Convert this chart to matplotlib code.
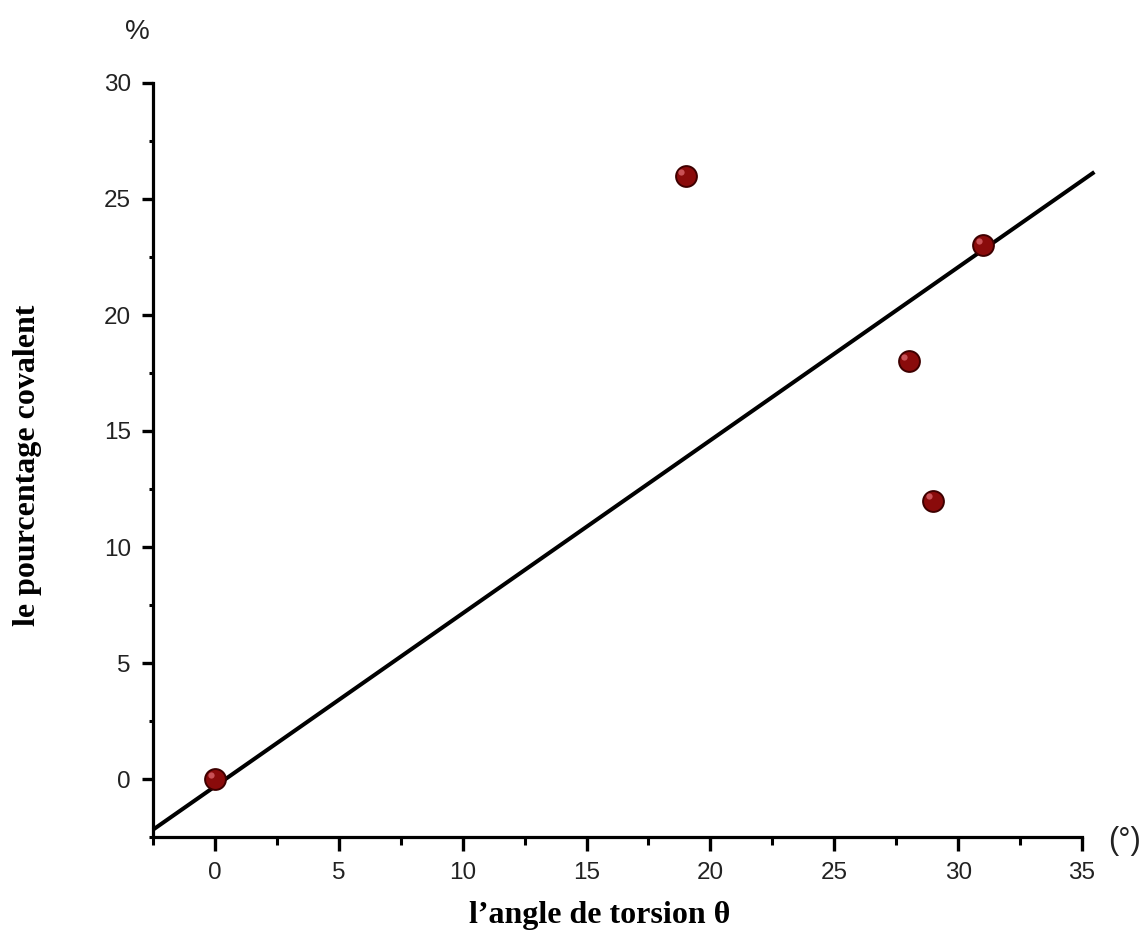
import matplotlib
matplotlib.use("Agg")
import matplotlib.pyplot as plt
import matplotlib.transforms as mtransforms
import numpy as np
from matplotlib.ticker import MultipleLocator

# Data
torsion_angle = [0, 19, 28, 29, 31]
covalent_pct = [0, 26, 18, 12, 23]
fit_slope = 0.746
fit_intercept = -0.32
fit_x_range = [-2.5, 35.5]

W, H = 1146, 940
fig = plt.figure(figsize=(W / 100, H / 100), dpi=100)
left, right, top, bottom = 153, 1082, 83, 837
ax = fig.add_axes([left / W, 1 - bottom / H, (right - left) / W, (bottom - top) / H])

fx = np.array(fit_x_range)
ax.plot(fx, fit_slope * fx + fit_intercept, color="black", lw=2.9,
        clip_on=False, zorder=2, solid_capstyle="butt")
ax.plot(torsion_angle, covalent_pct, ls="none", marker="o", ms=15,
        mfc="#8a0b0b", mec="#3e0000", mew=1.4, zorder=3, clip_on=False)
# small highlight on the markers
hl = mtransforms.offset_copy(ax.transData, fig=fig, x=-3, y=3, units="points")
ax.plot(torsion_angle, covalent_pct, ls="none", marker="o", ms=4.5,
        mfc="#d9646a", mec="none", alpha=0.8, zorder=4, transform=hl, clip_on=False)

ax.set_xlim(-2.5, 35)
ax.set_ylim(-2.5, 30)
ax.xaxis.set_major_locator(MultipleLocator(5))
ax.xaxis.set_minor_locator(MultipleLocator(2.5))
ax.yaxis.set_major_locator(MultipleLocator(5))
ax.yaxis.set_minor_locator(MultipleLocator(2.5))

for s in ["top", "right"]:
    ax.spines[s].set_visible(False)
for s in ["left", "bottom"]:
    ax.spines[s].set_linewidth(2.3)

ax.tick_params(axis="x", which="major", direction="out", length=10, width=2.4,
               labelsize=17.5, pad=8)
ax.tick_params(axis="x", which="minor", direction="out", length=6, width=2.2)
ax.tick_params(axis="y", which="major", direction="out", length=8, width=2.4,
               labelsize=17.5, pad=8)
ax.tick_params(axis="y", which="minor", direction="out", length=3, width=2.2)
for lab in ax.get_xticklabels() + ax.get_yticklabels():
    lab.set_fontfamily("Liberation Sans")
    lab.set_color("#222222")

ax.set_xlabel("l\u2019angle de torsion \u03b8", fontfamily="Liberation Serif",
              fontweight="bold", fontsize=23, va="center")
ax.xaxis.set_label_coords((600 - left) / (right - left), (bottom - 915) / (bottom - top))
ax.set_ylabel("le pourcentage covalent", fontfamily="Liberation Serif",
              fontweight="bold", fontsize=23, va="center")
ax.yaxis.set_label_coords((28 - left) / (right - left), (bottom - 465) / (bottom - top))

fig.text(137 / W, 1 - 32 / H, "%", fontfamily="Liberation Sans",
         fontsize=20, ha="center", va="center", color="#222222")
fig.text(1124 / W, 1 - 841 / H, "(\u00b0)", fontfamily="Liberation Sans",
         fontsize=22, ha="center", va="center", color="#222222")

fig.savefig("out.png", dpi=100, facecolor="white")
